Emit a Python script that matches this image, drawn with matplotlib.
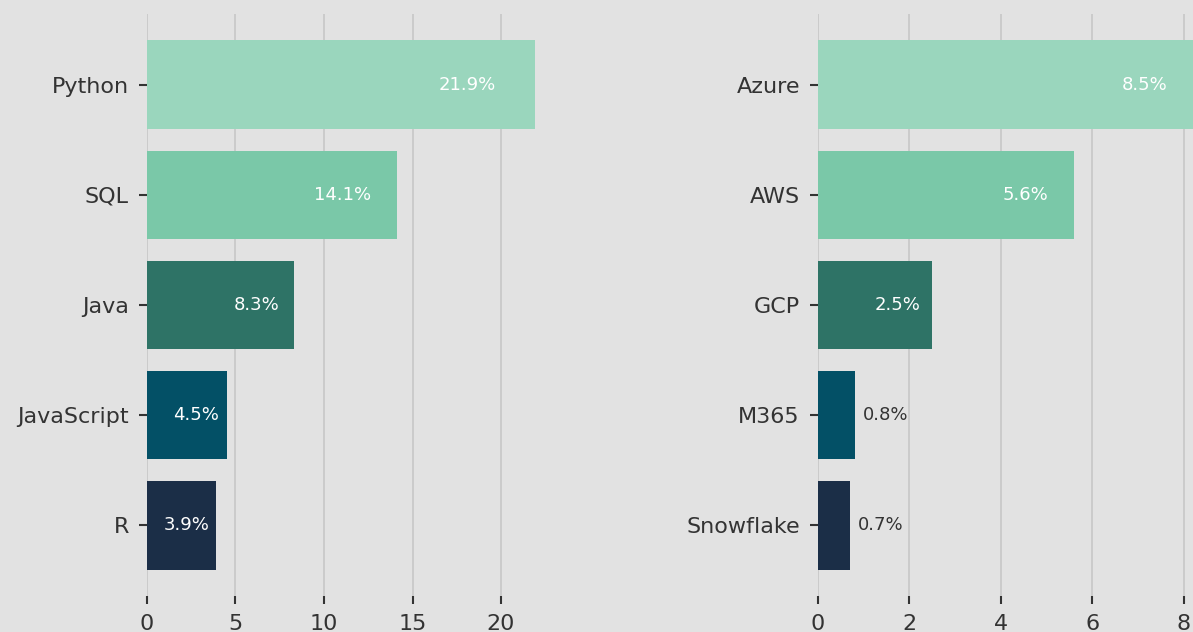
import matplotlib.pyplot as plt

# data
langs = ['Python', 'SQL', 'Java', 'JavaScript', 'R']
lang_pct = [21.9, 14.1, 8.3, 4.5, 3.9]
clouds = ['Azure', 'AWS', 'GCP', 'M365', 'Snowflake']
cloud_pct = [8.5, 5.6, 2.5, 0.8, 0.7]
bar_colors = ['#9ad6bd', '#7ac8a8', '#2e7366', '#035066', '#1b2e47']

bg = '#e2e2e2'
plt.rcParams['font.family'] = ['DejaVu Sans']

fig = plt.figure(figsize=(11.93, 6.32), dpi=100, facecolor=bg)
ax1 = fig.add_axes([0.1232, 0.057, 0.3412, 0.9209])
ax2 = fig.add_axes([0.6857, 0.057, 0.342, 0.9209])


def draw_panel(ax, names, values, xticks):
    ax.set_facecolor(bg)
    bars = ax.barh(names, values, color=bar_colors, height=0.8, zorder=2)
    ax.invert_yaxis()
    ax.set_xticks(xticks)
    ax.grid(axis='x', color='#c4c4c4', linewidth=1.1, zorder=0)
    ax.set_axisbelow(True)
    for s in ax.spines.values():
        s.set_visible(False)
    ax.tick_params(axis='both', length=6, width=1.5, color='#333333',
                   labelcolor='#333333', labelsize=16, pad=7)
    vmax = max(values)
    for b, v in zip(bars, values):
        y = b.get_y() + b.get_height() / 2
        if v < 0.15 * vmax:
            # small bars get the label outside
            ax.annotate(f'{v}%', (v, y), xytext=(6, 0), textcoords='offset points',
                        ha='left', va='center', fontsize=13, color='#333333')
        else:
            ax.text(v * 0.9, y, f'{v}%', ha='right', va='center',
                    fontsize=13, color='white')


draw_panel(ax1, langs, lang_pct, [0, 5, 10, 15, 20])
draw_panel(ax2, clouds, cloud_pct, [0, 2, 4, 6, 8])

plt.savefig('out.png', dpi=100, facecolor=bg)
plt.close()
